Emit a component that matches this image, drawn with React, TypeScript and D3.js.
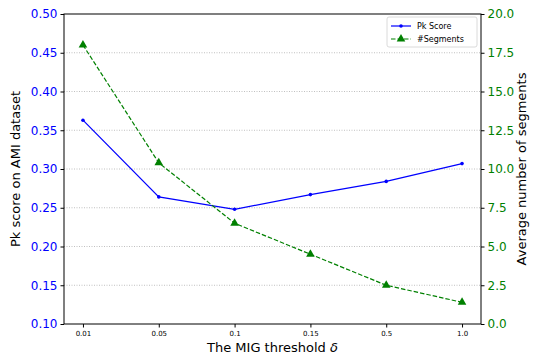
import React, { useEffect, useRef } from 'react';
import * as d3 from 'd3';

const thresholds = ['0.01', '0.05', '0.1', '0.15', '0.5', '1.0'];
const pkScores = [0.363, 0.264, 0.248, 0.267, 0.284, 0.307];
const segmentCounts = [18.0, 10.4, 6.5, 4.5, 2.5, 1.4];
const leftTicks = [0.1, 0.15, 0.2, 0.25, 0.3, 0.35, 0.4, 0.45, 0.5];
const rightTicks = [0, 2.5, 5, 7.5, 10, 12.5, 15, 17.5, 20];

const App: React.FC = () => {
  const svgRef = useRef<SVGSVGElement>(null);

  useEffect(() => {
    if (!svgRef.current) return;
    const svg = d3.select(svgRef.current);
    svg.selectAll('*').remove();

    const font = 'DejaVu Sans, sans-serif';
    const left = 64, right = 481, top = 14, bottom = 324;

    // categorical x with matplotlib-like 5% margins
    const x = d3.scalePoint<string>()
      .domain(thresholds)
      .range([left, right])
      .padding(0.25);

    const yL = d3.scaleLinear().domain([0.1, 0.5]).range([bottom, top]);
    const yR = d3.scaleLinear().domain([0, 20]).range([bottom, top]);

    // grid
    svg.append('g')
      .selectAll('line')
      .data(leftTicks.slice(1, -1))
      .enter()
      .append('line')
      .attr('x1', left)
      .attr('x2', right)
      .attr('y1', d => yL(d))
      .attr('y2', d => yL(d))
      .attr('stroke', '#b0b0b0')
      .attr('stroke-width', 0.8)
      .attr('stroke-dasharray', '1,1.5');

    // left axis
    const gl = svg.append('g')
      .attr('transform', `translate(${left},0)`)
      .call(d3.axisLeft(yL).tickValues(leftTicks).tickFormat(d3.format('.2f')).tickSize(3.5).tickPadding(3));
    gl.select('.domain').remove();
    gl.selectAll('text').attr('fill', '#0000ff').style('font-size', '12px').style('font-family', font);
    gl.selectAll('line').attr('stroke', '#000');

    // right axis
    const gr = svg.append('g')
      .attr('transform', `translate(${right},0)`)
      .call(d3.axisRight(yR).tickValues(rightTicks).tickFormat(d3.format('.1f')).tickSize(3.5).tickPadding(3));
    gr.select('.domain').remove();
    gr.selectAll('text').attr('fill', '#008000').style('font-size', '12px').style('font-family', font);
    gr.selectAll('line').attr('stroke', '#000');

    // bottom axis
    const gb = svg.append('g')
      .attr('transform', `translate(0,${bottom})`)
      .call(d3.axisBottom(x).tickSize(3.5).tickPadding(4));
    gb.select('.domain').remove();
    gb.selectAll('text').attr('fill', '#000').style('font-size', '7px').style('font-family', font);
    gb.selectAll('line').attr('stroke', '#000');

    // frame
    svg.append('rect')
      .attr('x', left)
      .attr('y', top)
      .attr('width', right - left)
      .attr('height', bottom - top)
      .attr('fill', 'none')
      .attr('stroke', '#000')
      .attr('stroke-width', 1);

    // Pk line
    const pkLine = d3.line<number>()
      .x((_, i) => x(thresholds[i]) as number)
      .y(d => yL(d));
    svg.append('path')
      .datum(pkScores)
      .attr('d', pkLine)
      .attr('fill', 'none')
      .attr('stroke', '#0000ff')
      .attr('stroke-width', 1.2);
    svg.append('g')
      .selectAll('circle')
      .data(pkScores)
      .enter()
      .append('circle')
      .attr('cx', (_, i) => x(thresholds[i]) as number)
      .attr('cy', d => yL(d))
      .attr('r', 1.8)
      .attr('fill', '#0000ff');

    // segments line
    const segLine = d3.line<number>()
      .x((_, i) => x(thresholds[i]) as number)
      .y(d => yR(d));
    svg.append('path')
      .datum(segmentCounts)
      .attr('d', segLine)
      .attr('fill', 'none')
      .attr('stroke', '#008000')
      .attr('stroke-width', 1.2)
      .attr('stroke-dasharray', '4.5,2');
    const tri = d3.symbol().type(d3.symbolTriangle).size(32);
    svg.append('g')
      .selectAll('path')
      .data(segmentCounts)
      .enter()
      .append('path')
      .attr('d', tri)
      .attr('transform', (d, i) => `translate(${x(thresholds[i])},${yR(d)})`)
      .attr('fill', '#008000');

    // axis labels
    svg.append('text')
      .attr('transform', `translate(20,${(top + bottom) / 2}) rotate(-90)`)
      .attr('text-anchor', 'middle')
      .style('font-family', font)
      .style('font-size', '13px')
      .text('Pk score on AMI dataset');
    svg.append('text')
      .attr('transform', `translate(526,${(top + bottom) / 2}) rotate(-90)`)
      .attr('text-anchor', 'middle')
      .style('font-family', font)
      .style('font-size', '13px')
      .text('Average number of segments');
    const xl = svg.append('text')
      .attr('x', (left + right) / 2)
      .attr('y', 352)
      .attr('text-anchor', 'middle')
      .style('font-family', font)
      .style('font-size', '13px');
    xl.append('tspan').text('The MIG threshold ');
    xl.append('tspan').style('font-style', 'italic').text('δ');

    // legend
    const lg = svg.append('g').attr('transform', 'translate(387,17)');
    lg.append('rect')
      .attr('width', 90)
      .attr('height', 30)
      .attr('rx', 2)
      .attr('fill', '#fff')
      .attr('fill-opacity', 0.8)
      .attr('stroke', '#d0d0d0')
      .attr('stroke-width', 0.8);
    lg.append('line').attr('x1', 4).attr('x2', 24).attr('y1', 9).attr('y2', 9)
      .attr('stroke', '#0000ff').attr('stroke-width', 1.2);
    lg.append('circle').attr('cx', 14).attr('cy', 9).attr('r', 1.8).attr('fill', '#0000ff');
    lg.append('line').attr('x1', 4).attr('x2', 24).attr('y1', 22).attr('y2', 22)
      .attr('stroke', '#008000').attr('stroke-width', 1.2).attr('stroke-dasharray', '4.5,2');
    lg.append('path').attr('d', tri).attr('transform', 'translate(14,22)').attr('fill', '#008000');
    lg.append('text').attr('x', 30).attr('y', 12).style('font-family', font).style('font-size', '8px').text('Pk Score');
    lg.append('text').attr('x', 30).attr('y', 25).style('font-family', font).style('font-size', '8px').text('#Segments');
  }, []);

  return (
    <svg ref={svgRef} width={534} height={356} style={{ position: 'absolute', left: 0, top: 0, background: '#fff' }} />
  );
};

export default App;
